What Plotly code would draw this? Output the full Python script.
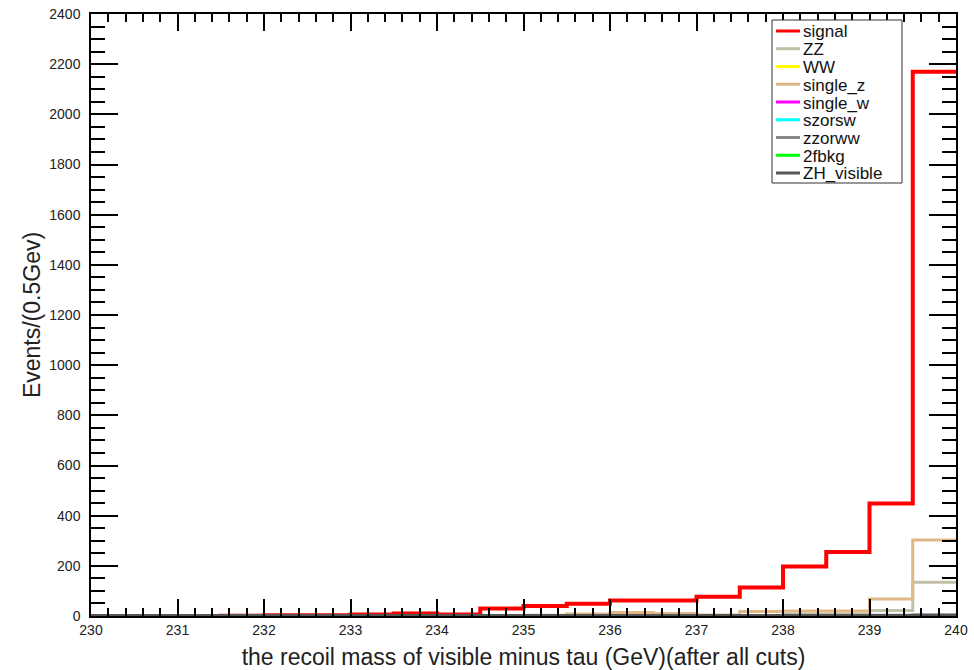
import plotly.graph_objects as go

# ---- data ----
edges = [230 + 0.5 * i for i in range(21)]
signal     = [0, 0, 0, 1, 3, 3, 6, 10, 6, 30, 40, 49, 62, 62, 77, 114, 197, 255, 449, 2170]
ZZ         = [0, 0, 0, 0, 0, 0, 0, 0, 0, 0, 0, 0, 0, 0, 0, 0, 8, 8, 22, 135]
WW         = [0, 1, 0, 0, 0, 0, 2, 0, 0, 0, 0, 0, 0, 0, 0, 0, 0, 0, 0, 2]
single_z   = [1, 0, 0, 0, 0, 0, 0, 0, 0, 2, 3, 8, 14, 10, 4, 18, 20, 20, 68, 303]
single_w   = [0] * 20
szorsw     = [0] * 20
zzorww     = [0, 0, 0, 0, 0, 0, 0, 0, 0, 0, 0, 0, 0, 0, 0, 0, 0, 0, 3, 5]
fbkg2      = [0] * 20
ZH_visible = [0] * 20

series = [
    ("signal", signal, "#ff0000", 4),
    ("ZZ", ZZ, "#c2c0a6", 3),
    ("WW", WW, "#ffff00", 3),
    ("single_z", single_z, "#deb887", 3),
    ("single_w", single_w, "#ff00ff", 3),
    ("szorsw", szorsw, "#00ffff", 3),
    ("zzorww", zzorww, "#888888", 3),
    ("2fbkg", fbkg2, "#00ff00", 3),
    ("ZH_visible", ZH_visible, "#555555", 4),
]
legend_labels = ["signal", "ZZ", "WW", "single_z", "single_w", "szorsw", "zzorww", "2fbkg", "ZH_visible"]

W, H = 974, 670
ml, mr, mt, mb = 91, 18, 14, 54
pw, ph = W - ml - mr, H - mt - mb

def px_x(px):
    return (px - ml) / pw

def px_y(py):
    return 1 - (py - mt) / ph

fig = go.Figure()
for name, vals, col, lw in series:
    xs = list(edges)
    ys = list(vals) + [vals[-1]]
    fig.add_trace(go.Scatter(x=xs, y=ys, mode="lines", line=dict(color=col, width=lw, shape="hv"),
                             name=name, showlegend=False, hoverinfo="skip", cliponaxis=False))

# manual legend (ROOT style)
shapes = [dict(type="rect", xref="paper", yref="paper", x0=px_x(772), x1=px_x(902),
               y0=px_y(183), y1=px_y(20), line=dict(color="#333333", width=1), fillcolor="white",
               layer="above")]
annotations = []
for i, (lab, (name, vals, col, lw)) in enumerate(zip(legend_labels, series)):
    yc = 31 + i * 17.75
    shapes.append(dict(type="line", xref="paper", yref="paper", x0=px_x(776), x1=px_x(800),
                       y0=px_y(yc), y1=px_y(yc), line=dict(color=col, width=3), layer="above"))
    annotations.append(dict(xref="paper", yref="paper", x=px_x(801), y=px_y(yc + 1), text=lab,
                            showarrow=False, xanchor="left", yanchor="middle",
                            font=dict(family="Liberation Sans", size=17, color="#111111")))

fig.update_layout(
    width=W, height=H,
    margin=dict(l=ml, r=mr, t=mt, b=mb, autoexpand=False),
    paper_bgcolor="white", plot_bgcolor="white",
    font=dict(family="Liberation Sans", size=14, color="black"),
    shapes=shapes, annotations=annotations,
    xaxis=dict(range=[230, 240], dtick=1, tick0=230, ticks="inside", ticklen=17, tickwidth=1.5,
               tickcolor="black", showline=True, linecolor="black", linewidth=1.5, mirror="ticks",
               showgrid=False, zeroline=False, automargin=False,
               minor=dict(dtick=0.2, tick0=230, ticks="inside", ticklen=8, tickwidth=1.5, tickcolor="black", showgrid=False),
               tickfont=dict(size=14, color="#222222"), ticklabelstandoff=0,
               title=dict(text="the recoil mass of visible minus tau (GeV)(after all cuts)",
                          font=dict(size=23, color="#222222"), standoff=12)),
    yaxis=dict(range=[0, 2400], dtick=200, tick0=0, ticks="inside", ticklen=27, tickwidth=1.5,
               tickcolor="black", showline=True, linecolor="black", linewidth=1.5, mirror="ticks",
               showgrid=False, zeroline=False, automargin=False,
               minor=dict(dtick=50, tick0=0, ticks="inside", ticklen=14, tickwidth=1.5, tickcolor="black", showgrid=False),
               tickfont=dict(size=14, color="#222222"), ticklabelstandoff=6,
               title=dict(text="Events/(0.5Gev)", font=dict(size=23, color="#222222"), standoff=2)),
)

fig.write_html("out.html", config={"displayModeBar": False},
               post_script="document.body.style.margin='0';")
